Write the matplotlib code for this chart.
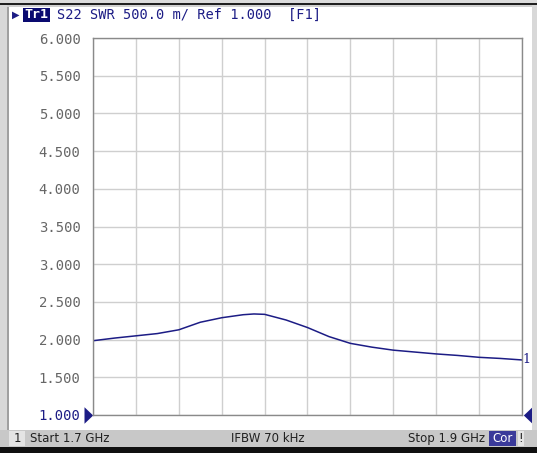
import numpy as np
import matplotlib.pyplot as plt
from matplotlib.patches import Rectangle

# S22 SWR trace
freq_ghz = [1.700, 1.710, 1.720, 1.730, 1.740, 1.750, 1.760, 1.770, 1.775, 1.780,
            1.790, 1.800, 1.810, 1.820, 1.830, 1.840, 1.850, 1.860, 1.870, 1.880,
            1.890, 1.900]
swr = [1.985, 2.020, 2.050, 2.080, 2.130, 2.230, 2.290, 2.330, 2.340, 2.335,
       2.260, 2.160, 2.040, 1.950, 1.900, 1.860, 1.835, 1.810, 1.790, 1.765,
       1.750, 1.730]
y_ticks = [1.0, 1.5, 2.0, 2.5, 3.0, 3.5, 4.0, 4.5, 5.0, 5.5, 6.0]

NAVY = '#1c1c85'
W, H = 537, 453

fig = plt.figure(figsize=(W / 100, H / 100), dpi=100)
fig.patch.set_facecolor('white')

# frame: outer borders and status bar (figure pixel coords)
def px_rect(x0, y0, x1, y1, color, z=0):
    fig.patches.append(Rectangle((x0 / W, 1 - y1 / H), (x1 - x0) / W, (y1 - y0) / H,
                                 transform=fig.transFigure, facecolor=color,
                                 edgecolor='none', zorder=z))

px_rect(0, 0, W, 3, '#dcdcdc')
px_rect(0, 3, W, 5, '#202020')
px_rect(0, 5, W, 7, '#d0d0d0')
px_rect(0, 5, 7, 430, '#d8d8d8')
px_rect(7, 7, 9, 430, '#a0a0a0')
px_rect(532, 5, W, 430, '#d8d8d8')
px_rect(0, 430, W, 447, '#c8c8c8')
px_rect(0, 447, W, H, '#101010')
px_rect(9, 431, 25, 446, '#e4e4e4', 1)
px_rect(489, 431, 516, 446, '#3a3a9a', 1)
px_rect(518, 431, 524, 446, '#e4e4e4', 1)

ax = fig.add_axes([93 / W, 1 - 415 / H, (522 - 93) / W, (415 - 38) / H])
ax.plot(freq_ghz, swr, color=NAVY, lw=1.1)
ax.set_xlim(1.7, 1.9)
ax.set_ylim(1.0, 6.0)
ax.set_xticks(np.linspace(1.7, 1.9, 11))
ax.set_xticklabels([])
ax.set_yticks(y_ticks)
ax.set_yticklabels(['%.3f' % v for v in y_ticks], family='DejaVu Sans Mono',
                   fontsize=10, color='#666666')
ax.get_yticklabels()[0].set_color(NAVY)
ax.tick_params(length=0, pad=9)
ax.grid(True, color='#cfcfcf', lw=1)
for s in ax.spines.values():
    s.set_color('#8a8a8a')
    s.set_linewidth(1)

# reference level arrows and marker label
right_tri = [(0, -1), (0, 1), (1.05, 0), (0, -1)]
left_tri = [(0, -1), (0, 1), (-1.05, 0), (0, -1)]
ax.plot([-0.021], [0], marker=right_tri, ms=12.5, color=NAVY, mew=0,
        transform=ax.transAxes, clip_on=False)
ax.plot([1.023], [0], marker=left_tri, ms=12.5, color=NAVY, mew=0,
        transform=ax.transAxes, clip_on=False)
ax.text(1.002, swr[-1], '1', color=NAVY, fontsize=9, va='center', ha='left',
        transform=ax.get_yaxis_transform(), family='DejaVu Serif')

# header line
fig.text(12 / W, 1 - 15 / H, '\u25b6', color=NAVY, fontsize=7, va='center')
px_rect(23, 8, 50, 22, '#0a0a70', 1)
fig.text(36.5 / W, 1 - 15 / H, 'Tr1', color='white', fontsize=9.5, va='center',
         ha='center', family='DejaVu Sans Mono', weight='bold', zorder=2)
fig.text(57 / W, 1 - 15 / H, 'S22 SWR 500.0 m/ Ref 1.000  [F1]', color=NAVY,
         fontsize=9.8, va='center', family='DejaVu Sans Mono')

# status bar
sb_y = 1 - 438.5 / H
fig.text(17 / W, sb_y, '1', fontsize=8.5, va='center', ha='center', color='#202020')
fig.text(30 / W, sb_y, 'Start 1.7 GHz', fontsize=8.5, va='center', color='#202020')
fig.text(268 / W, sb_y, 'IFBW 70 kHz', fontsize=8.5, va='center', ha='center', color='#202020')
fig.text(485 / W, sb_y, 'Stop 1.9 GHz', fontsize=8.5, va='center', ha='right', color='#202020')
fig.text(502.5 / W, sb_y, 'Cor', fontsize=8.5, va='center', ha='center', color='white')
fig.text(521 / W, sb_y, '!', fontsize=8.5, va='center', ha='center', color='#202020')

fig.savefig('out.png', dpi=100)
